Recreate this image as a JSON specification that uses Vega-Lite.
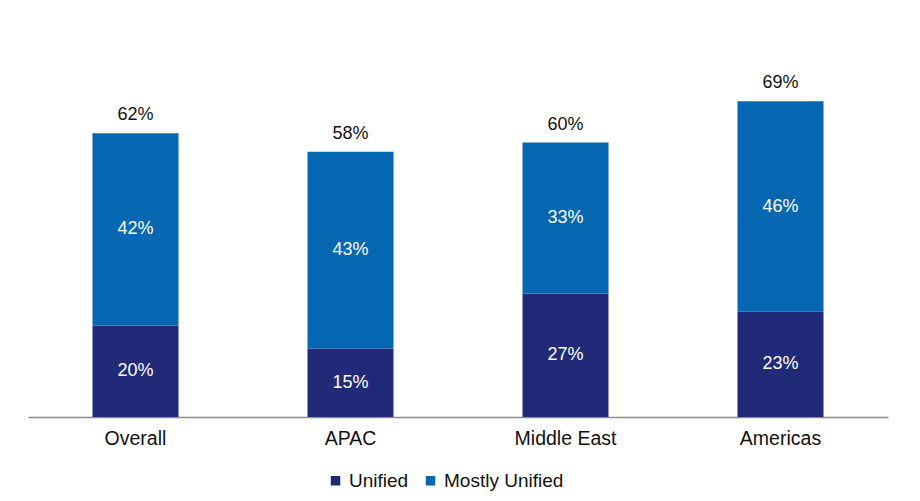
{
  "$schema": "https://vega.github.io/schema/vega-lite/v6.json",
  "width": 860,
  "height": 366,
  "autosize": {"type": "none"},
  "padding": {"left": 28, "top": 51, "right": 32, "bottom": 84},
  "background": "white",
  "config": {
    "font": "Liberation Sans, Arial, sans-serif",
    "view": {"stroke": null}
  },
  "data": {
    "values": [
      {"region": "Overall", "category": "Unified", "value": 0.20},
      {"region": "Overall", "category": "Mostly Unified", "value": 0.42},
      {"region": "APAC", "category": "Unified", "value": 0.15},
      {"region": "APAC", "category": "Mostly Unified", "value": 0.43},
      {"region": "Middle East", "category": "Unified", "value": 0.27},
      {"region": "Middle East", "category": "Mostly Unified", "value": 0.33},
      {"region": "Americas", "category": "Unified", "value": 0.23},
      {"region": "Americas", "category": "Mostly Unified", "value": 0.46}
    ]
  },
  "encoding": {
    "x": {
      "field": "region",
      "type": "nominal",
      "sort": ["Overall", "APAC", "Middle East", "Americas"],
      "scale": {"paddingInner": 0.6, "paddingOuter": 0.3},
      "axis": {
        "title": null,
        "labelAngle": 0,
        "labelFontSize": 19.5,
        "labelColor": "#111111",
        "labelPadding": 12,
        "ticks": false,
        "domainColor": "#8c8c8c",
        "domainWidth": 1.5
      }
    }
  },
  "layer": [
    {
      "mark": {"type": "bar"},
      "encoding": {
        "y": {
          "field": "value",
          "type": "quantitative",
          "stack": "zero",
          "scale": {"domain": [0, 0.8], "nice": false},
          "axis": null
        },
        "color": {
          "field": "category",
          "type": "nominal",
          "scale": {"domain": ["Unified", "Mostly Unified"], "range": ["#212a78", "#0567b1"]},
          "legend": {
            "title": null,
            "orient": "none",
            "legendX": 298,
            "legendY": 420,
            "direction": "horizontal",
            "symbolType": "square",
            "symbolSize": 90,
            "symbolStrokeWidth": 0,
            "labelFontSize": 19,
            "labelColor": "#111111",
            "labelOffset": 4,
            "columnPadding": 12
          }
        },
        "order": {"field": "category", "sort": "descending"}
      }
    },
    {
      "mark": {"type": "text", "color": "white", "fontSize": 18},
      "encoding": {
        "y": {"field": "value", "type": "quantitative", "stack": "zero", "bandPosition": 0.5},
        "text": {"field": "value", "type": "quantitative", "format": ".0%"},
        "detail": {"field": "category"},
        "order": {"field": "category", "sort": "descending"}
      }
    },
    {
      "transform": [{"aggregate": [{"op": "sum", "field": "value", "as": "total"}], "groupby": ["region"]}],
      "mark": {"type": "text", "color": "#111111", "fontSize": 18, "baseline": "bottom", "dy": -9},
      "encoding": {
        "y": {"field": "total", "type": "quantitative"},
        "text": {"field": "total", "type": "quantitative", "format": ".0%"}
      }
    }
  ]
}
